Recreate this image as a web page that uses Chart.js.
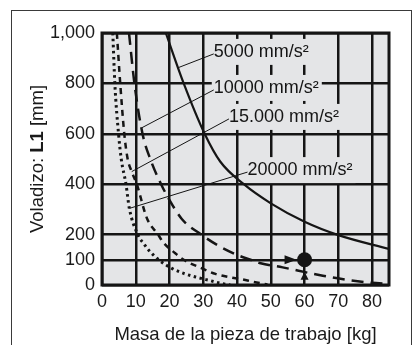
<!DOCTYPE html>
<html>
<head>
<meta charset="utf-8">
<script src="https://cdn.jsdelivr.net/npm/chart.js@4.4.1/dist/chart.umd.min.js"></script>
<style>
  html, body { margin: 0; padding: 0; background: #fff; }
  #wrap { position: relative; width: 417px; height: 345px; }
</style>
</head>
<body>
<div id="wrap"><canvas id="c" width="417" height="345"></canvas></div>
<script>
const FONT = '"Liberation Sans", Arial, Helvetica, sans-serif';

// Axis ticks
const xTicks = [0, 10, 20, 30, 40, 50, 60, 70, 80];
const yTicks = [0, 100, 200, 400, 600, 800, 1000];
const yTickLabels = ['0', '100', '200', '400', '600', '800', '1,000'];

// Curve names (acceleration)
const curveNames = ['5000 mm/s²', '10000 mm/s²', '15.000 mm/s²', '20000 mm/s²'];

// 5000 mm/s²
const mass5000 = [18.9, 24.2, 30.4, 35, 42, 50, 60, 70, 85];
const over5000 = [1000, 800, 600, 490, 400, 324, 251, 198, 143];

// 10000 mm/s²
const mass10000 = [8.0, 9.6, 12.0, 14.3, 17.5, 20, 23.7, 29.4, 34.1, 40.1, 44, 47, 53.5, 61.9, 65.4, 72.8, 79.8, 85];
const over10000 = [1000, 800, 600, 500, 400, 337, 261, 200, 159, 119, 100, 86, 70, 46, 37, 20, 9, 5];

// 15.000 mm/s²
const mass15000 = [4.4, 5.4, 6.6, 7.6, 8.8, 10.3, 13.3, 16.6, 18.2, 21.7, 24.2, 29.6, 33.6, 38.1, 41.6, 45, 49];
const over15000 = [1000, 800, 600, 500, 450, 400, 265, 200, 168, 126, 100, 66, 44, 30, 22, 12, 2];

// 20000 mm/s²
const mass20000 = [3.2, 3.8, 4.9, 5.7, 7.1, 8.1, 10.6, 12.3, 13.8, 16.8, 20.7, 24.2, 28.2, 32.1, 35.1, 38];
const over20000 = [1000, 800, 600, 500, 400, 304, 200, 165, 139, 100, 66, 46, 30, 17, 7, 0];

// Worked example: 60 kg, 100 mm
const exampleMass = [60];
const exampleOver = [100];

// Curve label anchors (data units): text start, leader end on curve
const curveLabels = [
  { text: curveNames[0], x: 33.1, y: 925, toX: 22.3, toY: 861 },
  { text: curveNames[1], x: 33.1, y: 782, toX: 11.8, toY: 624 },
  { text: curveNames[2], x: 37.6, y: 667, toX: 8.8,  toY: 450 },
  { text: curveNames[3], x: 43.1, y: 456, toX: 8.1,  toY: 304 }
];

const INK = '#151515';
const PLOT_BG = '#e4e5e7';

function pts(xs, ys) { return xs.map((x, i) => ({ x: x, y: ys[i] })); }

function curve(xs, ys, dash, width) {
  return {
    data: pts(xs, ys),
    borderColor: INK,
    borderWidth: width,
    borderDash: dash,
    borderCapStyle: 'butt',
    pointRadius: 0,
    fill: false,
    cubicInterpolationMode: 'monotone'
  };
}

const decorations = {
  id: 'decorations',
  beforeDraw(chart) {
    const { ctx, chartArea: a } = chart;
    ctx.save();
    ctx.fillStyle = '#fff';
    ctx.fillRect(0, 0, chart.width, chart.height);
    // figure frame
    ctx.strokeStyle = '#3a3a3a';
    ctx.lineWidth = 1;
    ctx.strokeRect(11.5, 10.5, 400, 400);
    // plot background
    ctx.fillStyle = PLOT_BG;
    ctx.fillRect(a.left, a.top, a.right - a.left, a.bottom - a.top);
    ctx.restore();
  },
  afterDatasetsDraw(chart) {
    const { ctx } = chart;
    const xs = chart.scales.x, ys = chart.scales.y;
    ctx.save();
    ctx.font = '18px ' + FONT;
    ctx.textBaseline = 'middle';
    // label boxes hide the grid behind the text
    curveLabels.forEach(l => {
      const px = xs.getPixelForValue(l.x), py = ys.getPixelForValue(l.y);
      const w = ctx.measureText(l.text).width;
      ctx.fillStyle = PLOT_BG;
      ctx.fillRect(px - 2, py - 13, w + 5, 26);
    });
    // leader lines
    ctx.strokeStyle = INK;
    ctx.lineWidth = 1;
    curveLabels.forEach(l => {
      ctx.beginPath();
      ctx.moveTo(xs.getPixelForValue(l.x), ys.getPixelForValue(l.y) + 2);
      ctx.lineTo(xs.getPixelForValue(l.toX), ys.getPixelForValue(l.toY));
      ctx.stroke();
    });
    // label text
    ctx.fillStyle = INK;
    curveLabels.forEach(l => {
      ctx.fillText(l.text, xs.getPixelForValue(l.x), ys.getPixelForValue(l.y));
    });
    // arrowheads toward the example point
    const ex = xs.getPixelForValue(exampleMass[0]);
    const ey = ys.getPixelForValue(exampleOver[0]);
    ctx.fillStyle = INK;
    ctx.beginPath();
    ctx.moveTo(ex - 8, ey);
    ctx.lineTo(ex - 20, ey - 4.5);
    ctx.lineTo(ex - 20, ey + 4.5);
    ctx.closePath();
    ctx.fill();
    ctx.beginPath();
    ctx.moveTo(ex, ey + 12);
    ctx.lineTo(ex - 4, ey + 20);
    ctx.lineTo(ex + 4, ey + 20);
    ctx.closePath();
    ctx.fill();
    ctx.restore();
  },
  afterDraw(chart) {
    const { ctx, chartArea: a } = chart;
    ctx.save();
    // plot frame
    ctx.strokeStyle = INK;
    ctx.lineWidth = 3;
    ctx.strokeRect(a.left, a.top, a.right - a.left, a.bottom - a.top);
    // x title
    ctx.fillStyle = '#1a1a1a';
    ctx.font = '18.5px ' + FONT;
    ctx.textAlign = 'center';
    ctx.textBaseline = 'alphabetic';
    ctx.fillText('Masa de la pieza de trabajo [kg]', (a.left + a.right) / 2, 340);
    // y title with bold "L1"
    const parts = [
      { t: 'Voladizo: ', f: '18.5px ' + FONT },
      { t: 'L1', f: 'bold 18.5px ' + FONT },
      { t: ' [mm]', f: '18.5px ' + FONT }
    ];
    let total = 0;
    parts.forEach(p => { ctx.font = p.f; p.w = ctx.measureText(p.t).width; total += p.w; });
    ctx.translate(43, (a.top + a.bottom) / 2);
    ctx.rotate(-Math.PI / 2);
    ctx.textAlign = 'left';
    let cx = -total / 2;
    parts.forEach(p => { ctx.font = p.f; ctx.fillText(p.t, cx, 0); cx += p.w; });
    ctx.restore();
  }
};

new Chart(document.getElementById('c'), {
  type: 'line',
  data: {
    datasets: [
      curve(mass5000, over5000, [], 2.2),
      curve(mass10000, over10000, [12, 7], 2.5),
      curve(mass15000, over15000, [6, 5], 2.5),
      curve(mass20000, over20000, [2.5, 3.5], 3),
      {
        data: pts(exampleMass, exampleOver),
        showLine: false,
        pointRadius: 7.5,
        pointBackgroundColor: INK,
        pointBorderWidth: 0
      }
    ]
  },
  options: {
    responsive: false,
    animation: false,
    layout: { padding: { top: 33, right: 28, left: 0, bottom: 0 } },
    plugins: { legend: { display: false }, tooltip: { enabled: false } },
    scales: {
      x: {
        type: 'linear',
        min: 0, max: 85,
        afterBuildTicks: s => { s.ticks = xTicks.map(v => ({ value: v })); },
        afterFit: s => { s.height = 60; },
        grid: { color: INK, lineWidth: 2.5, drawTicks: false },
        border: { display: false },
        ticks: {
          font: { family: FONT, size: 18 }, color: '#1a1a1a', padding: 6,
          maxRotation: 0, autoSkip: false, callback: v => String(v)
        }
      },
      y: {
        type: 'linear',
        min: 0, max: 1000,
        afterBuildTicks: s => { s.ticks = yTicks.map(v => ({ value: v })); },
        afterFit: s => { s.width = 102; },
        grid: { color: INK, lineWidth: 2.5, drawTicks: false },
        border: { display: false },
        ticks: {
          font: { family: FONT, size: 18 }, color: '#1a1a1a', padding: 7,
          autoSkip: false, callback: v => yTickLabels[yTicks.indexOf(v)]
        }
      }
    }
  },
  plugins: [decorations]
});
</script>
</body>
</html>
